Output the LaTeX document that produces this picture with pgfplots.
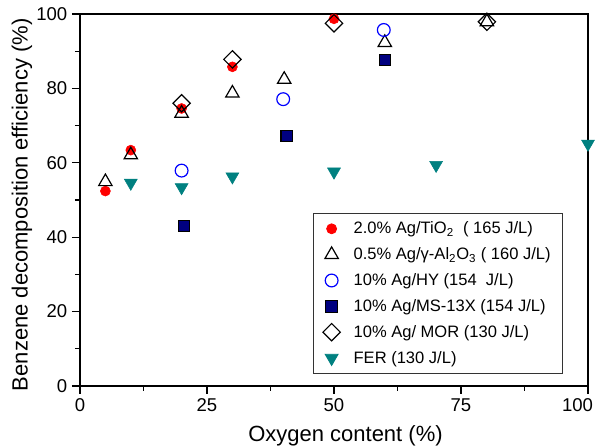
\documentclass[border=0pt]{standalone}
\usepackage{fontspec}
\setmainfont{Liberation Sans}
\usepackage{pgfplots}
\pgfplotsset{compat=1.18}
\definecolor{fer}{RGB}{0,128,128}
\definecolor{navy}{RGB}{0,0,128}
\begin{document}
\begin{tikzpicture}
\begin{axis}[
  name=ax,
  scale only axis,
  width=381pt, height=279pt,
  xmin=0, xmax=100, ymin=0, ymax=100,
  xtick={0,25,50,75,100}, ytick={0,20,40,60,80,100},
  xticklabels={0,25,50,75,\makebox[7.5pt][r]{100}},
  minor x tick num=1, minor y tick num=1,
  tick align=outside, tick pos=left,
  major tick length=6pt, minor tick length=3.75pt,
  axis line style={line width=0.9pt},
  every tick/.style={line width=0.9pt, black},
  /pgf/number format/assume math mode=true,
  ticklabel style={font=\fontsize{13.9}{16}\selectfont},
  label style={font=\fontsize{16.5}{19}\selectfont},
  xlabel={Oxygen content (\%)},
  ylabel={Benzene decomposition efficiency (\%)},
  xlabel style={at={(axis description cs:0.5226,-0.1505)}, anchor=base},
  ylabel style={at={(axis description cs:-0.1142,0.487)}, anchor=center},
  legend style={at={(0.951,0.032)}, anchor=south east, draw=black!80, line width=0.6pt,
    font=\fontsize{12.4}{14}\selectfont, row sep=4.9pt, column sep=8pt, inner xsep=7pt, inner ysep=4.5pt},
  legend cell align=left,
  clip=false,
]
\addplot[only marks, mark=*, mark size=3.75pt, color=red, mark options={fill=red, draw=red}]
  coordinates {(5,52.4) (10,63.4) (20,74.6) (30,85.8) (50,98.7)};
\addlegendentry{2.0\% Ag/TiO\textsubscript{2} \ ( 165 J/L)}
\addplot[only marks, mark=triangle, mark size=5.8pt, color=black, mark options={line width=0.9pt}]
  coordinates {(5,54.9) (10,62.1) (20,73.3) (30,78.7) (40.2,82.4) (60,92.3) (80.1,97.9)};
\addlegendentry{0.5\% Ag/γ-Al\textsubscript{2}O\textsubscript{3} ( 160 J/L)}
\addplot[only marks, mark=o, mark size=4.8pt, color=blue, mark options={line width=0.9pt}]
  coordinates {(20,57.9) (40,77.1) (59.8,95.7)};
\addlegendentry{10\% Ag/HY (154 \ J/L)}
\addplot[only marks, mark=square*, mark size=4.3pt, color=black, mark options={fill=navy, draw=black, line width=0.8pt}]
  coordinates {(20.5,43.0) (40.7,67.2) (60,87.6)};
\addlegendentry{10\% Ag/MS-13X (154 J/L)}
\addplot[only marks, mark=square, mark size=4.6pt, color=black, mark options={rotate=45, line width=0.9pt}]
  coordinates {(20,76.0) (30,87.8) (50,97.5) (80.1,97.9)};
\addlegendentry{10\% Ag/ MOR (130 J/L)}
\addplot[only marks, mark=triangle*, mark size=5.6pt, color=fer, mark options={rotate=180, fill=fer, draw=fer}]
  coordinates {(10,54.6) (20,53.4) (30,56.3) (50,57.6) (70.1,59.4) (100,65.1)};
\addlegendentry{FER (130 J/L)}
\end{axis}
\pgfresetboundingbox
\path ([shift={(-60pt,-46.5pt)}]ax.south west) rectangle ([shift={(6.75pt,10.5pt)}]ax.north east);
\end{tikzpicture}
\end{document}
